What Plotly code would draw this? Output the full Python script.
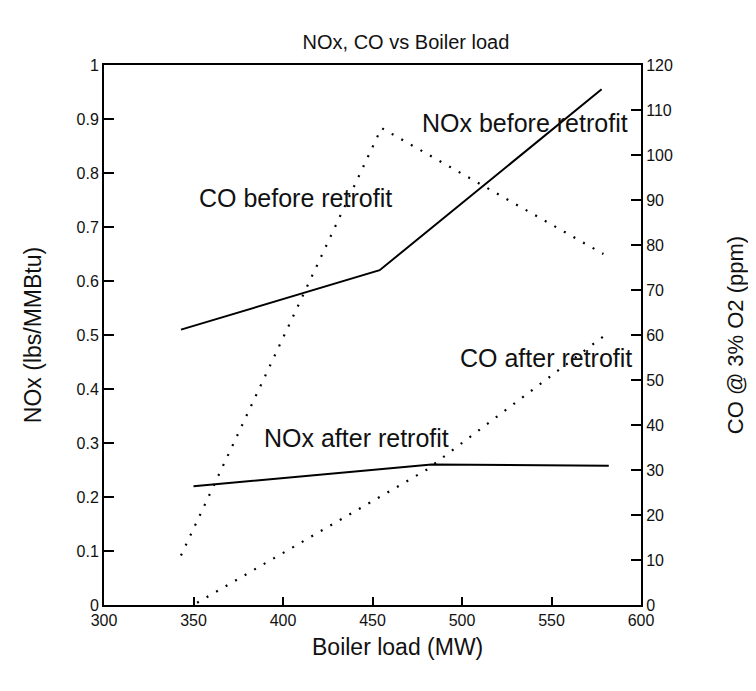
import plotly.graph_objects as go

# Data
nox_before_x = [343, 454, 578]
nox_before_y = [0.51, 0.62, 0.955]

nox_after_x = [350, 483, 582]
nox_after_y = [0.22, 0.26, 0.258]

co_before_x = [343, 455, 579]
co_before_y = [11, 106, 78]

co_after_x = [352, 480, 580]
co_after_y = [0.5, 30, 60]

x_ticks = [300, 350, 400, 450, 500, 550, 600]
nox_ticks = [0, 0.1, 0.2, 0.3, 0.4, 0.5, 0.6, 0.7, 0.8, 0.9, 1]
nox_ticktext = ["0", "0.1", "0.2", "0.3", "0.4", "0.5", "0.6", "0.7", "0.8", "0.9", "1"]
co_ticks = [0, 10, 20, 30, 40, 50, 60, 70, 80, 90, 100, 110, 120]

labels = ["NOx before retrofit", "CO before retrofit", "CO after retrofit", "NOx after retrofit"]
label_x = [535, 407, 547, 441]
label_y = [0.893, 0.754, 0.457, 0.309]

FONT = "Liberation Sans, Arial, sans-serif"

fig = go.Figure()
solid = dict(color="black", width=2)
dotted = dict(color="black", width=2.2, dash="2px,9px")

fig.add_trace(go.Scatter(x=nox_before_x, y=nox_before_y, mode="lines", line=solid, yaxis="y"))
fig.add_trace(go.Scatter(x=nox_after_x, y=nox_after_y, mode="lines", line=solid, yaxis="y"))
fig.add_trace(go.Scatter(x=co_before_x, y=co_before_y, mode="lines", line=dotted, yaxis="y2"))
fig.add_trace(go.Scatter(x=co_after_x, y=co_after_y, mode="lines", line=dotted, yaxis="y2"))

for t, x, y in zip(labels, label_x, label_y):
    fig.add_annotation(x=x, y=y, xref="x", yref="y", text=t, showarrow=False,
                       font=dict(family=FONT, size=25, color="#111"))

# x-axis title placed as an annotation (it sits right of the plot centre in the reference)
fig.add_annotation(x=0.546, y=-0.078, xref="paper", yref="paper", text="Boiler load (MW)",
                   showarrow=False, xanchor="center", yanchor="middle",
                   font=dict(family=FONT, size=23, color="#111"))

fig.update_layout(
    width=748, height=683,
    margin=dict(l=96, r=103, t=57, b=86),
    paper_bgcolor="white", plot_bgcolor="white",
    showlegend=False,
    font=dict(family=FONT, color="#111"),
    title=dict(text="NOx, CO vs Boiler load", x=0.532, xanchor="center", y=0.950, yanchor="middle",
               font=dict(family=FONT, size=20, color="#111")),
    xaxis=dict(range=[300, 600], tickmode="array", tickvals=x_ticks,
               ticks="inside", ticklen=8, tickwidth=1.5, tickcolor="black",
               showline=True, linecolor="black", linewidth=2, mirror=True,
               showgrid=False, zeroline=False,
               tickfont=dict(size=16, family=FONT)),
    yaxis=dict(range=[0, 1], tickmode="array", tickvals=nox_ticks, ticktext=nox_ticktext,
               ticks="inside", ticklen=10, tickwidth=1.5, tickcolor="black",
               showline=True, linecolor="black", linewidth=2,
               showgrid=False, zeroline=False,
               tickfont=dict(size=16, family=FONT),
               title=dict(text="NOx (lbs/MMBtu)", font=dict(size=23, family=FONT), standoff=28)),
    yaxis2=dict(range=[0, 120], tickmode="array", tickvals=co_ticks,
                overlaying="y", side="right",
                ticks="inside", ticklen=10, tickwidth=1.5, tickcolor="black",
                showline=True, linecolor="black", linewidth=2,
                showgrid=False, zeroline=False,
                tickfont=dict(size=16, family=FONT),
                title=dict(text="CO @ 3% O2 (ppm)", font=dict(size=22, family=FONT), standoff=56)),
)

fig.write_html("out.html")
